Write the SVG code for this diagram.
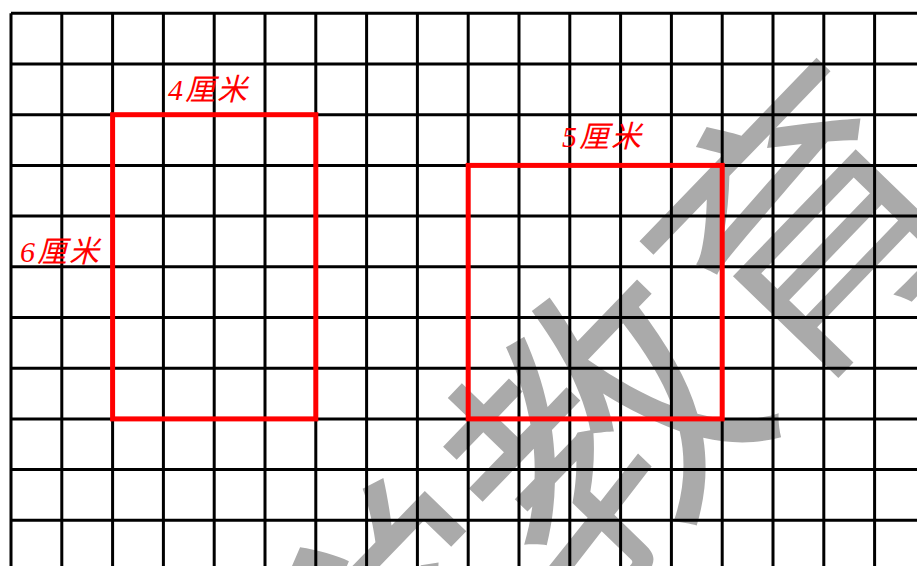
<svg xmlns="http://www.w3.org/2000/svg" width="917" height="566" viewBox="0 0 917 566">
<style>
.wm{fill:#aaaaaa;font-family:"Noto Sans CJK SC","Noto Sans CJK JP",sans-serif;font-size:290px}
.g{stroke:#000;stroke-width:3;fill:none}
.r{stroke:#ff0000;stroke-width:5;fill:none;stroke-linejoin:miter}
.lbl{fill:#ff0000;font-family:"Liberation Serif","Noto Sans CJK SC",serif;font-style:italic;font-size:30px;letter-spacing:2px}
</style>
<rect width="917" height="566" fill="#fff"/>
<g id="watermark">
<text class="wm" transform="translate(590,420) rotate(-46)" text-anchor="middle" dominant-baseline="central">学教育</text>
</g>
<g id="grid" class="g">
<path d="M11,13.3H917M11,64H917M11,114.7H917M11,165.4H917M11,216.1H917M11,266.8H917M11,317.5H917M11,368.2H917M11,418.9H917M11,469.6H917M11,520.3H917"/>
<path d="M11,13.3V566M61.8,13.3V566M112.6,13.3V566M163.4,13.3V566M214.2,13.3V566M265,13.3V566M315.8,13.3V566M366.6,13.3V566M417.4,13.3V566M468.2,13.3V566M519,13.3V566M569.8,13.3V566M620.6,13.3V566M671.4,13.3V566M722.2,13.3V566M773,13.3V566M823.8,13.3V566M874.6,13.3V566"/>
</g>
<g id="rect-4x6">
<rect class="r" x="112.6" y="114.7" width="203.2" height="304.2"/>
<text class="lbl" x="168" y="100">4厘米</text>
<text class="lbl" x="20" y="262">6厘米</text>
</g>
<g id="square-5">
<rect class="r" x="468.2" y="165.4" width="254" height="253.5"/>
<text class="lbl" x="562" y="147">5厘米</text>
</g>
</svg>
